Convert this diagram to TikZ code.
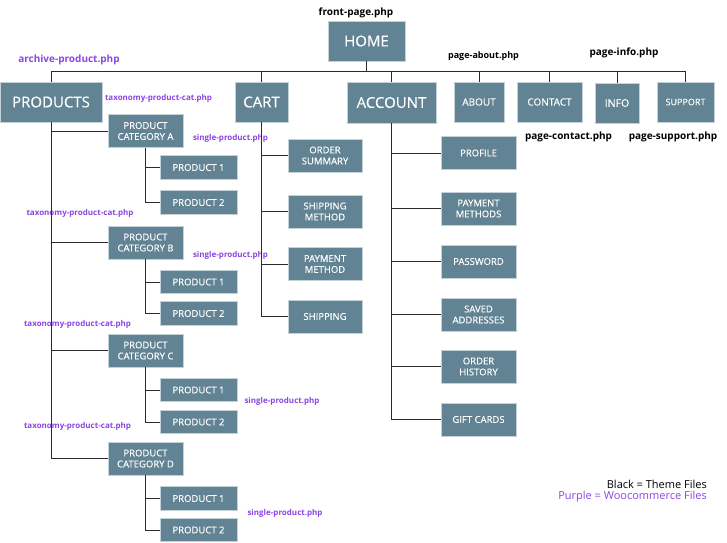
\documentclass[tikz,border=0pt]{standalone}
\usepackage{fontspec}
\setmainfont{Open Sans}
\newfontfamily\boxfont[FakeBold=0.35]{Open Sans}
\definecolor{boxfill}{HTML}{618393}
\definecolor{boxedge}{HTML}{C3D2D8}
\definecolor{purp}{HTML}{8B45E3}
\definecolor{linec}{HTML}{2B2B2B}
\begin{document}
\begin{tikzpicture}[x=1pt,y=-1pt,
  box/.style={rectangle, fill=boxfill, draw=boxedge, line width=0.8pt, text=white, align=center, inner sep=0pt, font=\boxfont\fontsize{9.5}{11}\selectfont},
  big/.style={box, font=\boxfont\fontsize{15}{18}\selectfont},
  conn/.style={draw=linec, line width=1pt},
  blk/.style={font=\fontsize{10}{12}\selectfont\bfseries, text=black, inner sep=0pt},
  pur/.style={font=\fontsize{8}{10}\selectfont\bfseries, text=purp, inner sep=0pt}]
\useasboundingbox (0,0) rectangle (727,542);
% top level
\node[big, minimum width=77pt, minimum height=40pt] (home) at (366.5,41) {HOME};
\node[big, minimum width=102pt, minimum height=40pt] (products) at (51,102) {PRODUCTS};
\node[big, minimum width=53pt, minimum height=40pt] (cart) at (261.5,102) {CART};
\node[big, minimum width=89pt, minimum height=41pt] (account) at (391.5,102.5) {ACCOUNT};
\node[box, font=\boxfont\fontsize{10}{12}\selectfont, minimum width=50pt, minimum height=40pt] (about) at (479,102) {ABOUT};
\node[box, font=\boxfont\fontsize{10}{12}\selectfont, minimum width=65pt, minimum height=40pt] (contact) at (549.5,102) {CONTACT};
\node[box, font=\boxfont\fontsize{10.5}{12}\selectfont, minimum width=44pt, minimum height=40pt] (info) at (617,103) {INFO};
\node[box, font=\boxfont\fontsize{9}{11}\selectfont, minimum width=57pt, minimum height=40pt] (support) at (685.5,102) {SUPPORT};
\coordinate (bus) at (0,71);
% file labels
\node[blk] (lhome) at (356,13) {front-page.php};
\node[pur, font=\fontsize{10}{12}\selectfont\bfseries] (larch) at (69,60) {archive-product.php};
\node[pur] (ltaxA) at (158.5,98) {taxonomy-product-cat.php};
\node[blk, font=\fontsize{9}{11}\selectfont\bfseries] (labout) at (483.5,56) {page-about.php};
\node[blk] (linfo) at (624,53) {page-info.php};
\node[blk] (lcontact) at (568.5,137) {page-contact.php};
\node[blk] (lsupport) at (673,137) {page-support.php};
% categories
\foreach \n/\l/\cy in {catA/A/131, catB/B/242.5, catC/C/350.5, catD/D/458.5}{
  \node[box, minimum width=75pt, minimum height=33pt] (\n) at (145.5,\cy) {PRODUCT\\CATEGORY \l};
}
\foreach \n/\k/\cy in {pA1/1/167.5, pA2/2/202.5, pB1/1/282, pB2/2/313.5, pC1/1/390, pC2/2/422, pD1/1/498.5, pD2/2/530}{
  \node[box, minimum width=77pt, minimum height=23.5pt] (\n) at (198.5,\cy) {PRODUCT \k};
}
\node[pur] (lspA) at (230.5,138) {single-product.php};
\node[pur] (lspB) at (230.5,255) {single-product.php};
\node[pur] (lspC) at (282,401) {single-product.php};
\node[pur] (lspD) at (285,513) {single-product.php};
\node[pur] (ltaxB) at (80,213) {taxonomy-product-cat.php};
\node[pur] (ltaxC) at (77.5,324) {taxonomy-product-cat.php};
\node[pur] (ltaxD) at (77.5,426) {taxonomy-product-cat.php};
% cart children
\node[box, minimum width=74pt, minimum height=33pt] (osum) at (325,155.5) {ORDER\\SUMMARY};
\node[box, minimum width=74pt, minimum height=33pt] (smeth) at (325,211.5) {SHIPPING\\METHOD};
\node[box, minimum width=74pt, minimum height=33pt] (pmeth) at (325,264) {PAYMENT\\METHOD};
\node[box, minimum width=74pt, minimum height=33pt] (ship) at (325,316.5) {SHIPPING};
% account children
\node[box, minimum width=75pt, minimum height=33pt] (profile) at (478.5,153) {PROFILE};
\node[box, minimum width=75pt, minimum height=33pt] (paym) at (478.5,208.5) {PAYMENT\\METHODS};
\node[box, minimum width=75pt, minimum height=33pt] (pass) at (478.5,261.5) {PASSWORD};
\node[box, minimum width=75pt, minimum height=33pt] (saved) at (478.5,314.5) {SAVED\\ADDRESSES};
\node[box, minimum width=75pt, minimum height=33pt] (ohist) at (478.5,366.5) {ORDER\\HISTORY};
\node[box, minimum width=75pt, minimum height=33pt] (gift) at (478.5,419.5) {GIFT CARDS};
% legend
\node[anchor=east, inner sep=0pt, font=\fontsize{11}{13}\selectfont, text=black] (leg1) at (707,484) {Black = Theme Files};
\node[anchor=east, inner sep=0pt, font=\fontsize{11}{13}\selectfont, text=purp] (leg2) at (707,497) {Purple = Woocommerce Files};
% connectors
\begin{scope}[conn]
\draw (home.south) -- (home.south |- bus);
\draw (products.north |- bus) -- (support.north |- bus);
\foreach \n in {products,cart,account,about,contact,info,support}
  \draw (\n.north |- bus) -- (\n.north);
\draw (products.south) |- (catD.west);
\foreach \n in {catA,catB,catC}
  \draw (products.south |- \n.west) -- (\n.west);
\foreach \c/\a/\b in {catA/pA1/pA2, catB/pB1/pB2, catC/pC1/pC2, catD/pD1/pD2}{
  \draw (\c.south) |- (\b.west);
  \draw (\c.south |- \a.west) -- (\a.west);
}
\draw (cart.south) |- (ship.west);
\foreach \n in {osum,smeth,pmeth}
  \draw (cart.south |- \n.west) -- (\n.west);
\draw (account.south) |- (gift.west);
\foreach \n in {profile,paym,pass,saved,ohist}
  \draw (account.south |- \n.west) -- (\n.west);
\end{scope}
\end{tikzpicture}
\end{document}
